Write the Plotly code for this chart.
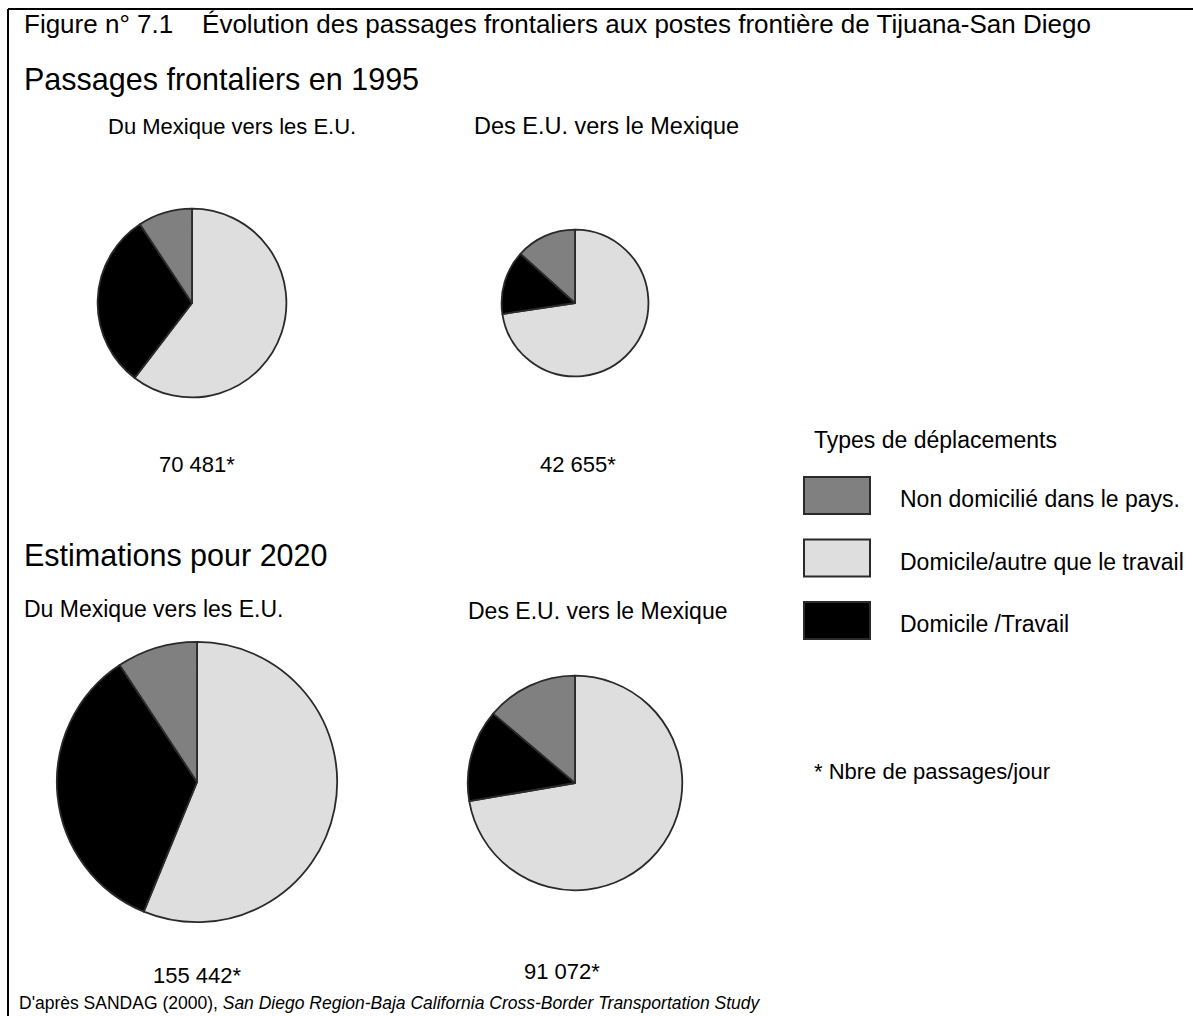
import plotly.graph_objects as go

# ---- data -------------------------------------------------------------
categories = ["Domicile/autre que le travail", "Domicile /Travail", "Non domicilié dans le pays."]

# share of each trip type (%), per flow
mx_us_1995 = [60.4, 30.3, 9.3]
us_mx_1995 = [72.6, 14.1, 13.3]
mx_us_2020 = [56.2, 34.5, 9.3]
us_mx_2020 = [72.3, 13.9, 13.8]

# daily crossings, per flow
totals = [70481, 42655, 155442, 91072]
total_labels = ["70 481*", "42 655*", "155 442*", "91 072*"]

flow_titles = ["Du Mexique vers les E.U.", "Des E.U. vers le Mexique"]
legend_title = "Types de déplacements"
legend_order = ["Non domicilié dans le pays.", "Domicile/autre que le travail", "Domicile /Travail"]

# ---- style ------------------------------------------------------------
W, H = 1193, 1016
FONT = "Liberation Sans, Arial, sans-serif"
COLORS = {
    "Domicile/autre que le travail": "#dedede",
    "Domicile /Travail": "#000000",
    "Non domicilié dans le pays.": "#808080",
}
EDGE = "#2a2a2a"
PX_PER_SQRT = 0.3555          # pie radius (px) per sqrt(crossings): area ~ volume

# pie centres in pixels
centres = [(192, 303), (575, 303), (197, 782), (575, 783)]
shares = [mx_us_1995, us_mx_1995, mx_us_2020, us_mx_2020]


def px_x(x):
    return x / W


def px_y(y):
    return 1 - y / H


fig = go.Figure()

for vals, tot, (cx, cy) in zip(shares, totals, centres):
    r = PX_PER_SQRT * tot ** 0.5
    fig.add_trace(go.Pie(
        labels=categories,
        values=vals,
        sort=False,
        direction="clockwise",
        rotation=0,
        textinfo="none",
        hoverinfo="label+percent",
        showlegend=False,
        marker=dict(colors=[COLORS[c] for c in categories],
                    line=dict(color=EDGE, width=1.8)),
        domain=dict(x=[px_x(cx - r), px_x(cx + r)],
                    y=[px_y(cy + r), px_y(cy - r)]),
    ))

annotations = []


def text(x, y, s, size, anchor="left"):
    annotations.append(dict(
        x=px_x(x), y=px_y(y), xref="paper", yref="paper",
        text=s, showarrow=False, xanchor=anchor, yanchor="middle",
        font=dict(family=FONT, size=size, color="black"),
    ))


text(22, 24, "Figure n° 7.1    Évolution des passages frontaliers aux postes frontière de Tijuana-San Diego", 26)
text(22, 80, "Passages frontaliers en 1995", 30.5)
text(106, 126, flow_titles[0], 22)
text(472, 126, flow_titles[1], 23.5)
text(197, 464, total_labels[0], 22, "center")
text(578, 464, total_labels[1], 22, "center")

text(22, 555, "Estimations pour 2020", 30.5)
text(22, 609, flow_titles[0], 23)
text(466, 611, flow_titles[1], 23)
text(197, 975, total_labels[2], 22, "center")
text(562, 971, total_labels[3], 22, "center")

text(812, 440, legend_title, 23)
shapes = []
for i, name in enumerate(legend_order):
    y0 = 477 + i * 62.5
    shapes.append(dict(type="rect", xref="paper", yref="paper",
                       x0=px_x(804), x1=px_x(870), y0=px_y(y0 + 37), y1=px_y(y0),
                       fillcolor=COLORS[name], line=dict(color=EDGE, width=2)))
    text(898, y0 + 22, name, 23)

text(812, 771, "* Nbre de passages/jour", 22)

text(17, 1003, "D'après SANDAG (2000), <i>San Diego Region-Baja California Cross-Border Transportation Study</i>", 17.5)

# frame: top and left rules
shapes.append(dict(type="line", xref="paper", yref="paper",
                   x0=px_x(8), x1=1, y0=px_y(9), y1=px_y(9),
                   line=dict(color="black", width=2)))
shapes.append(dict(type="line", xref="paper", yref="paper",
                   x0=px_x(8), x1=px_x(8), y0=0, y1=px_y(9),
                   line=dict(color="black", width=2)))

fig.update_layout(
    width=W, height=H,
    margin=dict(l=0, r=0, t=0, b=0),
    paper_bgcolor="white", plot_bgcolor="white",
    annotations=annotations, shapes=shapes,
    showlegend=False,
)

fig.write_html("out.html")
